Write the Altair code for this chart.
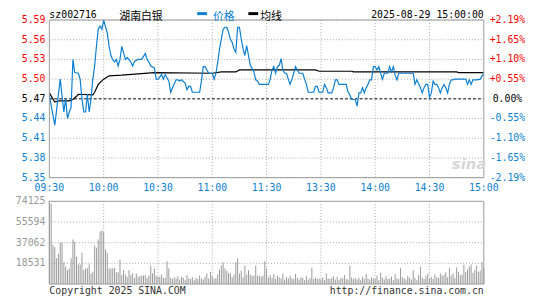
import altair as alt
import pandas as pd

# ---------------- data ----------------
prev_close = 5.47
price_ticks = [5.59, 5.56, 5.53, 5.50, 5.47, 5.44, 5.41, 5.38, 5.35]
pct_labels = ["+2.19%", "+1.65%", "+1.10%", "+0.55%", "0.00%", "-0.55%", "-1.10%", "-1.65%", "-2.19%"]
vol_ticks = [74125, 55594, 37062, 18531]
time_labels = ["09:30", "10:00", "10:30", "11:00", "11:30", "13:30", "14:00", "14:30", "15:00"]
time_minutes = [0, 30, 60, 90, 120, 150, 180, 210, 240]

price_minute = [0, 3, 6, 8, 9, 10, 11, 12, 13, 14, 16, 17, 18, 19, 20, 21, 22, 23, 24, 25, 26, 27, 28, 29,
                30, 31, 32, 33, 34, 35, 36, 37, 38, 39, 40, 41, 42, 43, 45, 46, 47, 49, 51, 53, 54, 55, 56,
                58, 59, 60, 62, 63, 64, 66, 67, 68, 70,
                71, 72, 73, 75, 76, 77, 78, 79, 83, 84, 85, 86, 88, 90, 91, 92, 93, 94, 95, 96, 97, 98, 99,
                100, 101, 102, 103, 104, 105, 106, 107, 108, 109, 110, 111, 112, 113, 114, 115, 116, 120,
                121, 122, 123, 124, 125, 126, 127, 128, 129, 130, 131, 132, 133, 134, 135, 136, 137, 138,
                140, 141, 142, 143, 146, 147, 148, 149, 151, 152, 153, 154, 156, 157, 158, 159, 160, 164,
                165, 166, 167, 169, 170, 171, 172, 173, 174, 175, 176, 177, 178, 179, 180, 181, 182, 183,
                184, 185, 187, 188, 189, 190, 191, 192, 193, 201, 202, 203, 205, 206, 207, 208, 209, 210,
                211, 212, 213, 214, 215, 216, 217, 218, 219, 220, 221, 222, 223, 224, 230, 231, 232, 233,
                234, 236, 238, 240]
price_value = [5.475, 5.43, 5.50, 5.45, 5.47, 5.44, 5.45, 5.457, 5.53, 5.51, 5.509, 5.50, 5.47, 5.45, 5.45,
               5.477, 5.45, 5.47, 5.50, 5.52, 5.55, 5.576, 5.581, 5.576,
               5.59, 5.58, 5.57, 5.55, 5.536, 5.53, 5.526, 5.53, 5.52, 5.53, 5.55, 5.54, 5.53, 5.533, 5.526,
               5.52, 5.527, 5.53, 5.53, 5.539, 5.53, 5.526, 5.52,
               5.517, 5.50, 5.50, 5.507, 5.50, 5.507, 5.497, 5.48, 5.487, 5.499,
               5.499, 5.497, 5.499, 5.494, 5.484, 5.489, 5.489, 5.48, 5.48, 5.497, 5.519, 5.519, 5.509,
               5.509, 5.50, 5.509, 5.526, 5.546, 5.561, 5.576, 5.579, 5.579, 5.571,
               5.561, 5.556, 5.546, 5.541, 5.579, 5.579, 5.561, 5.546, 5.536, 5.551, 5.536, 5.521, 5.516,
               5.511, 5.499, 5.497, 5.492, 5.492,
               5.492, 5.50, 5.514, 5.519, 5.509, 5.519, 5.521, 5.531, 5.514, 5.509, 5.509, 5.50, 5.492,
               5.50, 5.509, 5.519, 5.514, 5.509,
               5.509, 5.50, 5.492, 5.48, 5.48, 5.489, 5.489, 5.48, 5.48, 5.492, 5.487, 5.479, 5.479, 5.487,
               5.499, 5.499, 5.492, 5.492,
               5.48, 5.476, 5.469, 5.469, 5.459, 5.479, 5.479, 5.487, 5.479, 5.487, 5.492, 5.499, 5.499,
               5.519, 5.519, 5.514, 5.519, 5.509,
               5.50, 5.509, 5.509, 5.519, 5.511, 5.519, 5.506, 5.499, 5.509, 5.509, 5.492, 5.499, 5.487,
               5.479, 5.487, 5.492, 5.492, 5.472,
               5.479, 5.497, 5.492, 5.492, 5.487, 5.479, 5.487, 5.492, 5.487, 5.479, 5.492, 5.499, 5.499,
               5.50, 5.50, 5.492, 5.499, 5.492,
               5.499, 5.499, 5.50, 5.509]

avg_minute = [0, 3, 5, 11, 13, 15, 16, 24, 25, 27, 30, 33, 40, 49, 58, 90, 95, 103, 105, 147, 149, 167,
              168, 225, 226, 240]
avg_value = [5.479, 5.465, 5.467, 5.467, 5.469, 5.474, 5.477, 5.476, 5.48, 5.492, 5.50, 5.505, 5.506,
             5.508, 5.51, 5.509, 5.511, 5.511, 5.514, 5.514, 5.512, 5.512, 5.511, 5.511, 5.51, 5.51]

volume = [74125, 72000, 35000, 33000, 23000, 27000, 37000, 37500, 19500, 15500,
          12500, 14000, 23000, 40000, 38000, 24500, 17500, 17500, 28000, 12500,
          14000, 14000, 17500, 9500, 11000, 34500, 32500, 40000, 47000, 48000,
          46500, 31000, 28000, 14000, 14000, 14000, 14500, 10500, 10500, 22000,
          8000, 12500, 8500, 6500, 12500, 8000, 9500, 5500, 9500, 6500,
          7000, 7500, 7500, 8000, 5500, 7500, 16500, 9500, 14000, 7500,
          6500, 6500, 8500, 5500, 5500, 20500, 14000, 5500, 4500, 6000,
          5000, 7000, 4000, 6500, 5500, 3500, 8000, 5000, 4500, 6000,
          3500, 5500, 4500, 7500, 5000, 4000, 6500, 9500, 5000, 11000,
          7000, 4500, 5500, 8500, 13000, 16500, 19500, 14000, 12000, 9500,
          9500, 6000, 8500, 19500, 23000, 9500, 12000, 5800, 16500, 8500,
          12500, 8500, 7500, 7500, 16500, 7500, 7500, 6500, 7500, 20500,
          14000, 6000, 8000, 5500, 9000, 4500, 7500, 6000, 5000, 9500,
          4000, 6500, 5000, 7500, 5000, 4500, 9000, 5500, 4000, 6000,
          5500, 3500, 7000, 4000, 5500, 14500, 4500, 6000, 4500, 5000,
          4000, 6000, 3500, 9500, 5000, 4500, 5500, 7000, 4000, 6500,
          3500, 5500, 5000, 8000, 4500, 4000, 16500, 6000, 4500, 5500,
          4000, 5500, 3500, 6500, 4500, 9000, 5000, 4000, 6000, 5000,
          4500, 7500, 3500, 10000, 5500, 4000, 7000, 4500, 5000, 6500,
          3500, 9000, 5000, 4500, 14500, 6000, 5000, 4000, 7500, 5500,
          4000, 12500, 5500, 3500, 8000, 15500, 6000, 4500, 7500, 9500,
          5000, 6500, 4500, 8500, 6000, 5500, 9500, 7500, 8000, 10500,
          6000, 14500, 7500, 9500, 5500, 15000, 11000, 8000, 8500, 17500,
          10500, 13000, 15500, 17500, 10000, 12500, 16500, 11000, 12000, 19500,
          14000]

# ---------------- layout / style ----------------
W, H = 441, 282
PTOP, PBOT = 0, 160
VTOP, VBOT = 184, 268
MONO = "DejaVu Sans Mono"
CJK = "Noto Sans CJK SC"
BLUE = "#0b7fd4"
RED = "#ff0000"
GRID = "#a8a8a8"
BORDER = "#999999"

xs = alt.Scale(domain=[0, 240], nice=False, zero=False)
ps = alt.Scale(domain=[5.35, 5.59], range=[PBOT, PTOP], nice=False, zero=False)
vs = alt.Scale(domain=[0, 74125], range=[VBOT, VTOP], nice=False, zero=False)

tick_df = pd.DataFrame({"p": price_ticks, "pct": pct_labels})
tick_df["lbl"] = tick_df["p"].map(lambda v: f"{v:.2f}")
tick_df["dir"] = ["up" if p > prev_close + 1e-9 else ("down" if p < prev_close - 1e-9 else "flat")
                  for p in price_ticks]
dir_scale = alt.Scale(domain=["up", "flat", "down"], range=[RED, "#000000", BLUE])

grid_df = tick_df[tick_df["dir"] != "flat"]
vgrid_df = pd.DataFrame({"m": time_minutes[1:-1]})
time_df = pd.DataFrame({"m": time_minutes, "t": time_labels})
vol_df = pd.DataFrame({"m": list(range(len(volume))), "v": volume})
vtick_df = pd.DataFrame({"v": vol_ticks, "lbl": [str(v) for v in vol_ticks]})
vgrid_h_df = vtick_df.iloc[1:]
price_df = pd.DataFrame({"m": price_minute, "p": price_value})
avg_df = pd.DataFrame({"m": avg_minute, "p": avg_value})
pc_df = pd.DataFrame({"p": [prev_close]})
one = pd.DataFrame({"k": [0]})


def X():
    return alt.X("m:Q", scale=xs, axis=None)


def PY():
    return alt.Y("p:Q", scale=ps, axis=None)


def VY():
    return alt.Y("v:Q", scale=vs, axis=None)


layers = []

# grids
layers.append(alt.Chart(grid_df).mark_rule(color=GRID, strokeDash=[1, 2], strokeWidth=1).encode(
    y=PY(), x=alt.value(0), x2=alt.value(W)))
layers.append(alt.Chart(vgrid_df).mark_rule(color=GRID, strokeDash=[1, 2], strokeWidth=1).encode(
    x=X(), y=alt.value(PTOP), y2=alt.value(PBOT)))
layers.append(alt.Chart(vgrid_df).mark_rule(color=GRID, strokeDash=[1, 2], strokeWidth=1).encode(
    x=X(), y=alt.value(VTOP), y2=alt.value(VBOT)))
layers.append(alt.Chart(vgrid_h_df).mark_rule(color=GRID, strokeDash=[1, 2], strokeWidth=1).encode(
    y=VY(), x=alt.value(0), x2=alt.value(W)))

# previous close
layers.append(alt.Chart(pc_df).mark_rule(color="#000000", strokeDash=[3, 2], strokeWidth=1).encode(
    y=PY(), x=alt.value(0), x2=alt.value(W)))

# volume bars
layers.append(alt.Chart(vol_df).mark_rule(color="#999999", strokeWidth=1).encode(
    x=X(), y=VY(), y2=alt.datum(0)))

# average & price lines
layers.append(alt.Chart(avg_df).mark_line(color="#000000", strokeWidth=1.2).encode(x=X(), y=PY()))
layers.append(alt.Chart(price_df).mark_line(color=BLUE, strokeWidth=1.2).encode(x=X(), y=PY()))

# borders
layers.append(alt.Chart(one).mark_rect(fillOpacity=0, stroke=BORDER, strokeWidth=1).encode(
    x=alt.value(0), x2=alt.value(W), y=alt.value(PTOP), y2=alt.value(PBOT)))
layers.append(alt.Chart(one).mark_rect(fillOpacity=0, stroke=BORDER, strokeWidth=1).encode(
    x=alt.value(0), x2=alt.value(W), y=alt.value(VTOP), y2=alt.value(VBOT)))

# axis labels
layers.append(alt.Chart(tick_df).mark_text(align="right", baseline="middle", font=MONO, fontSize=10).encode(
    x=alt.value(-4), y=PY(), text="lbl:N", color=alt.Color("dir:N", scale=dir_scale, legend=None)))
layers.append(alt.Chart(tick_df).mark_text(align="center", baseline="middle", font=MONO, fontSize=10).encode(
    x=alt.value(465), y=PY(), text="pct:N", color=alt.Color("dir:N", scale=dir_scale, legend=None)))
layers.append(alt.Chart(time_df).mark_text(align="center", baseline="middle", font=MONO, fontSize=10,
                                           color=BLUE).encode(
    x=X(), y=alt.value(171), text="t:N"))
layers.append(alt.Chart(vtick_df).mark_text(align="right", baseline="middle", font=MONO, fontSize=10,
                                            color="#999999").encode(
    x=alt.value(-4), y=VY(), text="lbl:N"))

# header
layers.append(alt.Chart(one).mark_text(text="sz002716", align="left", baseline="middle", font=MONO,
                                       fontSize=10, color="#000000").encode(x=alt.value(0), y=alt.value(-5.5)))
layers.append(alt.Chart(one).mark_text(text="湖南白银", align="left", baseline="middle", font=CJK,
                                       fontSize=11, color="#000000").encode(x=alt.value(71), y=alt.value(-3.5)))
layers.append(alt.Chart(one).mark_rule(color=BLUE, strokeWidth=3).encode(
    x=alt.value(150), x2=alt.value(160), y=alt.value(-6.5)))
layers.append(alt.Chart(one).mark_text(text="价格", align="left", baseline="middle", font=CJK,
                                       fontSize=11, color=BLUE).encode(x=alt.value(166), y=alt.value(-3.5)))
layers.append(alt.Chart(one).mark_rule(color="#000000", strokeWidth=3).encode(
    x=alt.value(202), x2=alt.value(212), y=alt.value(-6.5)))
layers.append(alt.Chart(one).mark_text(text="均线", align="left", baseline="middle", font=CJK,
                                       fontSize=11, color="#000000").encode(x=alt.value(214), y=alt.value(-3.5)))
layers.append(alt.Chart(one).mark_text(text="2025-08-29 15:00:00", align="right", baseline="middle",
                                       font=MONO, fontSize=10, color="#000000").encode(
    x=alt.value(W), y=alt.value(-5.5)))

# watermark
layers.append(alt.Chart(one).mark_text(text="sina", align="center", baseline="middle", font="DejaVu Sans",
                                       fontStyle="italic", fontWeight="bold", fontSize=15,
                                       color="#d6d6d6").encode(x=alt.value(426), y=alt.value(146)))

# footer
layers.append(alt.Chart(one).mark_text(text="Copyright 2025 SINA.COM", align="left", baseline="middle",
                                       font=MONO, fontSize=10, color="#333333").encode(
    x=alt.value(0), y=alt.value(275)))
layers.append(alt.Chart(one).mark_text(text="http://finance.sina.com.cn", align="right", baseline="middle",
                                       font=MONO, fontSize=10, color="#333333").encode(
    x=alt.value(W), y=alt.value(275)))

chart = alt.layer(*layers).resolve_scale(y="independent", color="independent").properties(
    width=W, height=H,
    padding={"left": 42, "top": 10, "right": 54, "bottom": 0},
    autosize=alt.AutoSizeParams(type="none"),
).configure_view(strokeWidth=0)

chart.save("out.html", embed_options={"renderer": "svg", "actions": False})
